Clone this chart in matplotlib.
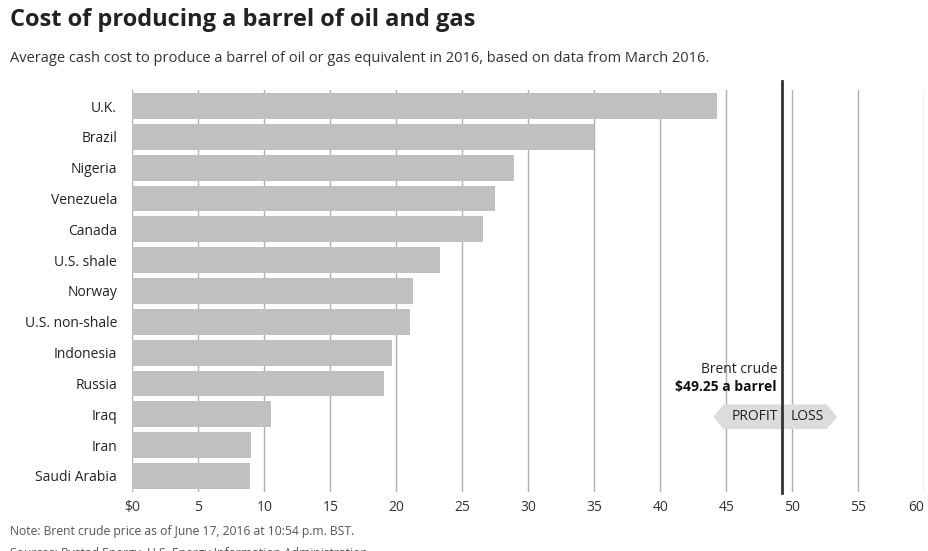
"""Cost of producing a barrel of oil and gas - horizontal bar chart."""
import matplotlib
matplotlib.use('Agg')
import matplotlib.pyplot as plt
from matplotlib.patches import Polygon

countries = ['U.K.', 'Brazil', 'Nigeria', 'Venezuela', 'Canada', 'U.S. shale',
             'Norway', 'U.S. non-shale', 'Indonesia', 'Russia', 'Iraq', 'Iran',
             'Saudi Arabia']
costs = [44.3, 35.0, 28.9, 27.5, 26.6, 23.3, 21.3, 21.0, 19.7, 19.1, 10.5, 9.0, 8.9]
brent = 49.25
x_ticks = [0, 5, 10, 15, 20, 25, 30, 35, 40, 45, 50, 55, 60]
x_labels = ['$0'] + [str(t) for t in x_ticks[1:]]

W, H = 929, 551
fig = plt.figure(figsize=(W / 100, H / 100), dpi=100)
fig.patch.set_facecolor('white')

# axes box in pixel terms: x 132..924, y 90..492
ax = fig.add_axes([132.3 / W, 1 - 492 / H, 792 / W, 402 / H])
ax.set_xlim(0, 60)
ax.set_ylim(len(countries) - 0.48, -0.52)

for t in x_ticks:
    ax.axvline(t, color='#b0b0b0', lw=1, zorder=1)

ax.barh(range(len(countries)), costs, height=0.84, color='#c0c0c0', zorder=2)

ax.set_yticks(range(len(countries)))
ax.set_yticklabels(countries, fontsize=10, color='#222222', family='Open Sans')
ax.set_xticks(x_ticks)
ax.set_xticklabels(x_labels, fontsize=10, color='#333333', family='Open Sans')
ax.get_xticklabels()[-1].set_horizontalalignment('right')
ax.tick_params(length=0)
ax.tick_params(axis='y', pad=11)
ax.tick_params(axis='x', pad=6)
for s in ax.spines.values():
    s.set_visible(False)

# Brent crude line
ax.plot([brent, brent], [-0.82, len(countries) - 0.45], color='#333333', lw=2,
        zorder=4, clip_on=False)
ax.text(brent - 0.4, 8.55, 'Brent crude', ha='right', va='center', fontsize=10,
        color='#222222', family='Open Sans')
ax.text(brent - 0.4, 9.1, '$49.25 a barrel', ha='right', va='center', fontsize=10,
        color='#111111', family='Open Sans', fontweight='bold')

# profit / loss arrow badge
yc, hh = 10.08, 0.40
badge = Polygon([(44.0, yc), (44.8, yc - hh), (52.6, yc - hh), (53.4, yc),
                 (52.6, yc + hh), (44.8, yc + hh)], closed=True,
                facecolor='#dcdcdc', edgecolor='none', zorder=3)
ax.add_patch(badge)
ax.text(brent - 0.35, yc, 'PROFIT', ha='right', va='center', fontsize=10,
        color='#222222', family='Open Sans', zorder=5)
ax.text(brent + 0.6, yc, 'LOSS', ha='left', va='center', fontsize=10,
        color='#222222', family='Open Sans', zorder=5)

fig.text(10 / W, 1 - 20 / H, 'Cost of producing a barrel of oil and gas',
         fontsize=17, fontweight='bold', color='#222222', family='Open Sans',
         va='center')
fig.text(10 / W, 1 - 58 / H,
         'Average cash cost to produce a barrel of oil or gas equivalent in 2016, '
         'based on data from March 2016.',
         fontsize=10.5, color='#333333', family='Open Sans', va='center')
fig.text(10 / W, 1 - 531 / H,
         'Note: Brent crude price as of June 17, 2016 at 10:54 p.m. BST.',
         fontsize=8.7, color='#555555', family='Open Sans', va='center')
fig.text(10 / W, 1 - 547 / H, 'Sources: Rystad Energy, U.S. Energy Information Administration',
         fontsize=8.7, color='#555555', family='Open Sans', va='top')

fig.savefig('out.png', dpi=100)
